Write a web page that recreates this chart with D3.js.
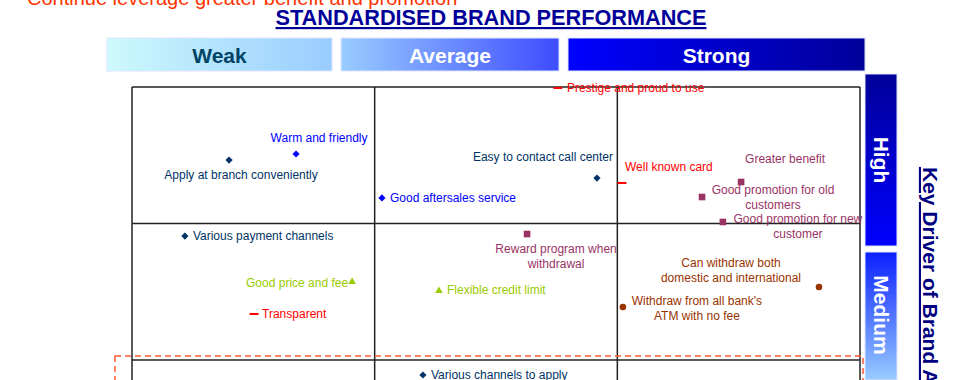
<!DOCTYPE html>
<html>
<head>
<meta charset="utf-8">
<script src="https://cdn.jsdelivr.net/npm/d3@7"></script>
<style>
  body { margin: 0; background: #fff; overflow: hidden; }
  svg { display: block; font-family: Arial, "Liberation Sans", sans-serif; }
</style>
</head>
<body>
<div id="container"></div>
<script>
// brand performance (x: 0 weak .. 3 strong), key driver (y: 0 low .. 3 high)
const performanceLevels = ["Weak", "Average", "Strong"];
const driverLevels = ["High", "Medium"];

const navyItems = [
  { label: "Apply at branch conveniently", perf: 0.40, driver: 2.465 },
  { label: "Easy to contact call center", perf: 1.916, driver: 2.333 },
  { label: "Various payment channels", perf: 0.218, driver: 1.908 },
  { label: "Various channels to apply", perf: 1.199, driver: 0.89 }
];
const blueItems = [
  { label: "Warm and friendly", perf: 0.676, driver: 2.509 },
  { label: "Good aftersales service", perf: 1.03, driver: 2.187 }
];
const redItems = [
  { label: "Prestige and proud to use", perf: 1.755, driver: 2.993 },
  { label: "Well known card", perf: 2.019, driver: 2.297 },
  { label: "Transparent", perf: 0.503, driver: 1.337 }
];
const maroonItems = [
  { label: "Greater benefit", perf: 2.51, driver: 2.304 },
  { label: "Good promotion for old\ncustomers", perf: 2.349, driver: 2.194 },
  { label: "Good promotion for new\ncustomer", perf: 2.435, driver: 2.011 },
  { label: "Reward program when\nwithdrawal", perf: 1.628, driver: 1.923 }
];
const greenItems = [
  { label: "Good price and fee", perf: 0.907, driver: 1.579 },
  { label: "Flexible credit limit", perf: 1.265, driver: 1.513 }
];
const brownItems = [
  { label: "Can withdraw both\ndomestic and international", perf: 2.831, driver: 1.535 },
  { label: "Withdraw from all bank's\nATM with no fee", perf: 2.023, driver: 1.388 }
];

// where each label sits relative to its marker
const labelPlace = {
  "Apply at branch conveniently": ["middle", 12, 15],
  "Easy to contact call center": ["middle", -54, -21],
  "Various payment channels": ["start", 8, 0],
  "Various channels to apply": ["start", 8, 0],
  "Warm and friendly": ["middle", 23, -16],
  "Good aftersales service": ["start", 8, 0],
  "Prestige and proud to use": ["start", 9, 0],
  "Well known card": ["start", 3, -16],
  "Transparent": ["start", 8, 0],
  "Greater benefit": ["middle", 44, -23],
  "Good promotion for old\ncustomers": ["middle", 71, -7],
  "Good promotion for new\ncustomer": ["middle", 75, -3],
  "Reward program when\nwithdrawal": ["middle", 29, 15],
  "Good price and fee": ["end", -4, 2],
  "Flexible credit limit": ["start", 8, 0],
  "Can withdraw both\ndomestic and international": ["middle", -88, -24],
  "Withdraw from all bank's\nATM with no fee": ["middle", 74, -6]
};

const series = [
  { items: navyItems, color: "#003366", shape: "diamond" },
  { items: blueItems, color: "#0000ff", shape: "diamond" },
  { items: redItems, color: "#ff0000", shape: "dash" },
  { items: maroonItems, color: "#993366", shape: "square" },
  { items: greenItems, color: "#99cc00", shape: "triangle" },
  { items: brownItems, color: "#993300", shape: "circle" }
];

const width = 980, height = 380;
const svg = d3.select("#container").append("svg")
  .attr("width", width).attr("height", height);

const x = d3.scaleLinear().domain([0, 3]).range([132, 860]);
const y = d3.scaleLinear().domain([0, 3]).range([496.5, 87]);

const defs = svg.append("defs");
function grad(id, c1, c2, vertical) {
  const g = defs.append("linearGradient").attr("id", id)
    .attr("x1", 0).attr("y1", 0)
    .attr("x2", vertical ? 0 : 1).attr("y2", vertical ? 1 : 0);
  g.append("stop").attr("offset", 0).attr("stop-color", c1);
  g.append("stop").attr("offset", 1).attr("stop-color", c2);
}
grad("gWeak", "#cdfafc", "#99ccff");
grad("gAverage", "#99ccff", "#3d4cff");
grad("gStrong", "#0000ff", "#000099");
grad("gHigh", "#000099", "#0000ff", true);
grad("gMedium", "#0a1fff", "#99ccff", true);

// top note, partly cut off
svg.append("text")
  .attr("x", 27).attr("y", 5)
  .attr("font-size", 20).attr("fill", "#ff3300")
  .text("Continue leverage greater benefit and promotion");

// title
svg.append("text")
  .attr("x", 491).attr("y", 25)
  .attr("text-anchor", "middle")
  .attr("font-size", 21.7).attr("font-weight", "bold")
  .attr("fill", "#000099")
  .style("text-decoration", "underline")
  .text("STANDARDISED BRAND PERFORMANCE");

// performance header bars
const headerBoxes = [[107, 332, "gWeak", "#004466"], [341, 559, "gAverage", "#fff"], [568, 865, "gStrong", "#fff"]];
headerBoxes.forEach((b, i) => {
  svg.append("rect")
    .attr("x", b[0]).attr("y", 38).attr("width", b[1] - b[0]).attr("height", 33)
    .attr("fill", `url(#${b[2]})`).attr("stroke", "#dde6ff").attr("stroke-width", 1);
  svg.append("text")
    .attr("x", (b[0] + b[1]) / 2).attr("y", 63)
    .attr("text-anchor", "middle")
    .attr("font-size", 21).attr("font-weight", "bold")
    .attr("fill", b[3])
    .text(performanceLevels[i]);
});

// driver side bars
const sideBoxes = [[74, 246, "gHigh", 160], [252, 380, "gMedium", 315]];
sideBoxes.forEach((b, i) => {
  svg.append("rect")
    .attr("x", 865).attr("y", b[0]).attr("width", 32).attr("height", b[1] - b[0])
    .attr("fill", `url(#${b[2]})`).attr("stroke", "#dde6ff").attr("stroke-width", 1);
  svg.append("text")
    .attr("transform", `translate(874, ${b[3]}) rotate(90)`)
    .attr("text-anchor", "middle")
    .attr("font-size", 21).attr("font-weight", "bold")
    .attr("fill", "#fff")
    .text(driverLevels[i]);
});

// axis title on the right
svg.append("text")
  .attr("transform", "translate(923, 167) rotate(90)")
  .attr("font-size", 21).attr("font-weight", "bold")
  .attr("fill", "#000080")
  .style("text-decoration", "underline")
  .text("Key Driver of Brand Attributes");

// grid
const grid = svg.append("g").attr("stroke", "#222").attr("stroke-width", 1.5);
[0, 1, 2, 3].forEach((v) => {
  grid.append("line").attr("x1", x(v)).attr("x2", x(v)).attr("y1", y(3)).attr("y2", y(0));
  grid.append("line").attr("x1", x(0)).attr("x2", x(3)).attr("y1", y(v)).attr("y2", y(v));
});

// red dashed highlight box
svg.append("rect")
  .attr("x", 115).attr("y", 356).attr("width", 748).attr("height", 100)
  .attr("fill", "none").attr("stroke", "#ff5a33").attr("stroke-width", 1.5)
  .attr("stroke-dasharray", "6,4");

function marker(g, shape, color) {
  if (shape === "diamond") g.append("path").attr("d", "M0,-3.6L3.6,0L0,3.6L-3.6,0Z").attr("fill", color);
  if (shape === "square") g.append("rect").attr("x", -3.3).attr("y", -3.3).attr("width", 6.6).attr("height", 6.6).attr("fill", color);
  if (shape === "triangle") g.append("path").attr("d", "M0,-3.5L3.8,3L-3.8,3Z").attr("fill", color);
  if (shape === "circle") g.append("circle").attr("r", 3.3).attr("fill", color);
  if (shape === "dash") g.append("rect").attr("x", -4.5).attr("y", -1).attr("width", 9).attr("height", 2).attr("fill", color);
}

series.forEach((s) => {
  const pts = svg.append("g").selectAll("g")
    .data(s.items).enter().append("g")
    .attr("transform", (d) => `translate(${x(d.perf)}, ${y(d.driver)})`);
  pts.each(function (d) {
    const g = d3.select(this);
    marker(g, s.shape, s.color);
    const p = labelPlace[d.label];
    const t = g.append("text")
      .attr("text-anchor", p[0])
      .attr("font-size", 12).attr("fill", s.color);
    d.label.split("\n").forEach((line, i) => {
      t.append("tspan").attr("x", p[1]).attr("y", p[2] + 4 + i * 15).text(line);
    });
  });
});
</script>
</body>
</html>
